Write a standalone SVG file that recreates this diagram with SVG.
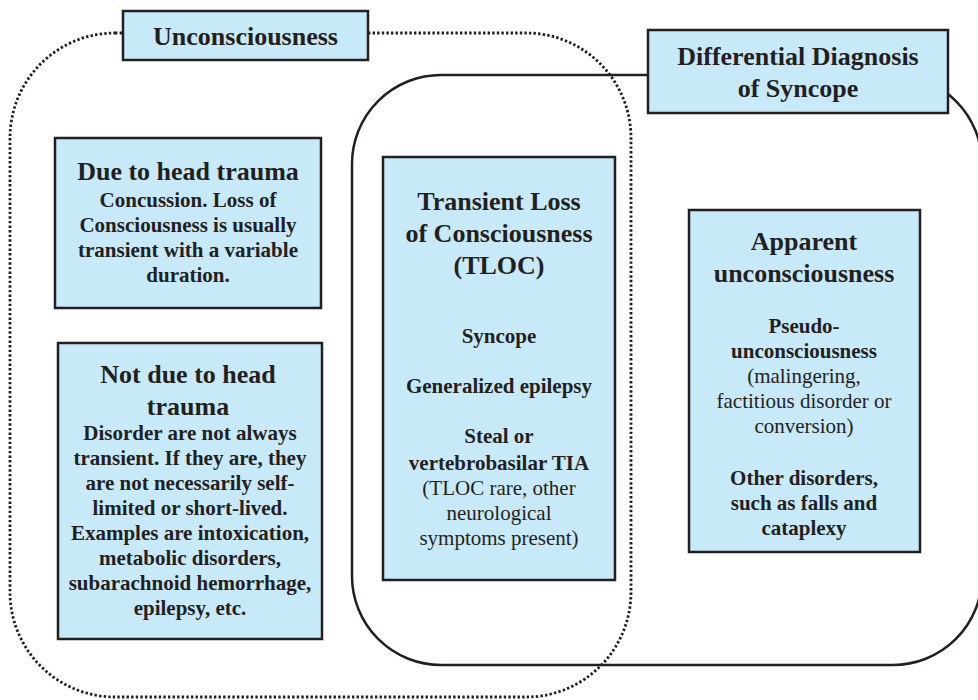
<svg xmlns="http://www.w3.org/2000/svg" width="978" height="700" viewBox="0 0 978 700">
<style>
.box{fill:#c8e9f8;stroke:#231f20;stroke-width:2.5}
.dot{fill:none;stroke:#231f20;stroke-width:2.8;stroke-dasharray:2.4 2.2}
.solid{fill:none;stroke:#231f20;stroke-width:2.5}
text{font-family:"Liberation Serif","Times New Roman",serif;fill:#231f20;text-anchor:middle}
.h{font-size:26px;font-weight:bold}
.b{font-size:21px;font-weight:bold}
.r{font-size:21px}
</style>
<rect width="978" height="700" fill="#ffffff"/>
<g id="outlines">
<rect class="dot" x="10" y="33" width="621" height="664" rx="105" ry="105"/>
<rect class="solid" x="352" y="75" width="630" height="590" rx="89" ry="89"/>
</g>
<g id="connectors"></g>
<g id="unconsciousness">
<rect class="box" x="123" y="11" width="245" height="49"/>
<text class="h" x="245.5" y="45">Unconsciousness</text>
</g>
<g id="differential">
<rect class="box" x="648" y="30" width="300" height="83"/>
<text class="h" x="798" y="65">Differential Diagnosis</text>
<text class="h" x="798" y="97">of Syncope</text>
</g>
<g id="head-trauma">
<rect class="box" x="55" y="138" width="266" height="170"/>
<text class="h" x="188" y="180">Due to head trauma</text>
<text class="b" x="188" y="207">Concussion. Loss of</text>
<text class="b" x="188" y="232">Consciousness is usually</text>
<text class="b" x="188" y="257">transient with a variable</text>
<text class="b" x="188" y="282">duration.</text>
</g>
<g id="not-head-trauma">
<rect class="box" x="58" y="343" width="264" height="296"/>
<text class="h" x="188" y="383">Not due to head</text>
<text class="h" x="188" y="415">trauma</text>
<text class="b" x="190" y="440">Disorder are not always</text>
<text class="b" x="190" y="465">transient. If they are, they</text>
<text class="b" x="190" y="490">are not necessarily self-</text>
<text class="b" x="190" y="515">limited or short-lived.</text>
<text class="b" x="190" y="540">Examples are intoxication,</text>
<text class="b" x="190" y="565">metabolic disorders,</text>
<text class="b" x="190" y="590">subarachnoid hemorrhage,</text>
<text class="b" x="190" y="615">epilepsy, etc.</text>
</g>
<g id="tloc">
<rect class="box" x="383" y="157" width="232" height="423"/>
<text class="h" x="499" y="210">Transient Loss</text>
<text class="h" x="499" y="242">of Consciousness</text>
<text class="h" x="499" y="274">(TLOC)</text>
<text class="b" x="499" y="343">Syncope</text>
<text class="b" x="499" y="393">Generalized epilepsy</text>
<text class="b" x="499" y="443">Steal or</text>
<text class="b" x="499" y="470">vertebrobasilar TIA</text>
<text class="r" x="499" y="495">(TLOC rare, other</text>
<text class="r" x="499" y="520">neurological</text>
<text class="r" x="499" y="545">symptoms present)</text>
</g>
<g id="apparent">
<rect class="box" x="689" y="210" width="231" height="342"/>
<text class="h" x="804" y="250">Apparent</text>
<text class="h" x="804" y="282">unconsciousness</text>
<text class="b" x="804" y="333">Pseudo-</text>
<text class="b" x="804" y="358">unconsciousness</text>
<text class="r" x="804" y="383">(malingering,</text>
<text class="r" x="804" y="408">factitious disorder or</text>
<text class="r" x="804" y="433">conversion)</text>
<text class="b" x="804" y="485">Other disorders,</text>
<text class="b" x="804" y="510">such as falls and</text>
<text class="b" x="804" y="535">cataplexy</text>
</g>
</svg>
